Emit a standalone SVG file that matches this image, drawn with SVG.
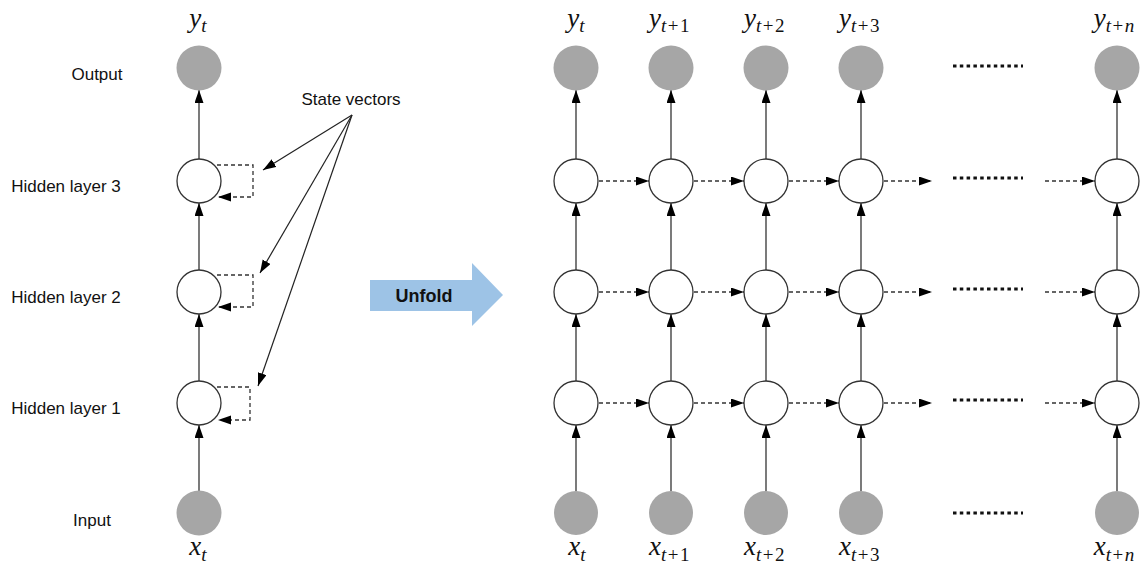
<svg xmlns="http://www.w3.org/2000/svg" width="1142" height="567" viewBox="0 0 1142 567">
<style>
.lbl{font-family:"Liberation Sans",Arial,sans-serif;font-size:17px;fill:#111}
.math{font-family:"Liberation Serif","DejaVu Serif",serif;font-style:italic;font-size:27px;fill:#111}
.sub{font-size:19px}
.up{font-style:normal;letter-spacing:1.5px}
.gray{fill:#a6a6a6}
.hid{fill:#fff;stroke:#333;stroke-width:1.3}
.v{stroke:#333;stroke-width:1.3;fill:none;marker-end:url(#ah)}
.d{stroke:#333;stroke-width:1.3;fill:none;stroke-dasharray:4,3;marker-end:url(#ah)}
.s{stroke:#222;stroke-width:1.2;fill:none;marker-end:url(#ah)}
.dots{stroke:#111;stroke-width:3;stroke-dasharray:3.5,3.3;fill:none}
</style>
<defs>
<marker id="ah" markerUnits="userSpaceOnUse" markerWidth="14" markerHeight="10" refX="13" refY="4.5" orient="auto">
<path d="M0,0 L13,4.5 L0,9 z" fill="#000"/>
</marker>
</defs>
<rect width="1142" height="567" fill="#fff"/>

<g id="labels-left">
<text class="lbl" x="97" y="80" text-anchor="middle">Output</text>
<text class="lbl" x="66" y="192" text-anchor="middle">Hidden layer 3</text>
<text class="lbl" x="66" y="303" text-anchor="middle">Hidden layer 2</text>
<text class="lbl" x="66" y="414" text-anchor="middle">Hidden layer 1</text>
<text class="lbl" x="92" y="526" text-anchor="middle">Input</text>
<text class="lbl" x="351" y="105" text-anchor="middle" font-size="16.5">State vectors</text>
</g>

<g id="math-labels">
<text class="math" x="198" y="27" text-anchor="middle">y<tspan class="sub" dy="5">t</tspan></text>
<text class="math" x="198" y="555" text-anchor="middle">x<tspan class="sub" dy="6">t</tspan></text>
<text class="math" x="576" y="27" text-anchor="middle">y<tspan class="sub" dy="5">t</tspan></text>
<text class="math" x="670" y="27" text-anchor="middle">y<tspan class="sub" dy="5">t<tspan class="up" dx="1.5">+1</tspan></tspan></text>
<text class="math" x="765" y="27" text-anchor="middle">y<tspan class="sub" dy="5">t<tspan class="up" dx="1.5">+2</tspan></tspan></text>
<text class="math" x="860" y="27" text-anchor="middle">y<tspan class="sub" dy="5">t<tspan class="up" dx="1.5">+3</tspan></tspan></text>
<text class="math" x="1114" y="27" text-anchor="middle">y<tspan class="sub" dy="5">t<tspan class="up" dx="1.5">+</tspan>n</tspan></text>
<text class="math" x="577" y="555" text-anchor="middle">x<tspan class="sub" dy="6">t</tspan></text>
<text class="math" x="670" y="555" text-anchor="middle">x<tspan class="sub" dy="6">t<tspan class="up" dx="1.5">+1</tspan></tspan></text>
<text class="math" x="765" y="555" text-anchor="middle">x<tspan class="sub" dy="6">t<tspan class="up" dx="1.5">+2</tspan></tspan></text>
<text class="math" x="860" y="555" text-anchor="middle">x<tspan class="sub" dy="6">t<tspan class="up" dx="1.5">+3</tspan></tspan></text>
<text class="math" x="1114" y="555" text-anchor="middle">x<tspan class="sub" dy="6">t<tspan class="up" dx="1.5">+</tspan>n</tspan></text>
</g>

<g id="connectors">
<line class="v" x1="199" y1="491" x2="199" y2="425"/>
<line class="v" x1="199" y1="381" x2="199" y2="314"/>
<line class="v" x1="199" y1="270" x2="199" y2="203"/>
<line class="v" x1="199" y1="159" x2="199" y2="90"/>
<polyline class="d" points="217,165 253,165 253,197 218,197"/>
<polyline class="d" points="217,275 253,275 253,307 218,307"/>
<polyline class="d" points="217,387 250,387 250,420 218,420"/>
<line class="s" x1="352" y1="115" x2="263" y2="170"/>
<line class="s" x1="352" y1="115" x2="260" y2="273"/>
<line class="s" x1="352" y1="115" x2="258" y2="386"/>

<g>
<line class="v" x1="576" y1="491" x2="576" y2="425"/>
<line class="v" x1="576" y1="381" x2="576" y2="314"/>
<line class="v" x1="576" y1="270" x2="576" y2="203"/>
<line class="v" x1="576" y1="159" x2="576" y2="90"/>
<line class="v" x1="671" y1="491" x2="671" y2="425"/>
<line class="v" x1="671" y1="381" x2="671" y2="314"/>
<line class="v" x1="671" y1="270" x2="671" y2="203"/>
<line class="v" x1="671" y1="159" x2="671" y2="90"/>
<line class="v" x1="766" y1="491" x2="766" y2="425"/>
<line class="v" x1="766" y1="381" x2="766" y2="314"/>
<line class="v" x1="766" y1="270" x2="766" y2="203"/>
<line class="v" x1="766" y1="159" x2="766" y2="90"/>
<line class="v" x1="861" y1="491" x2="861" y2="425"/>
<line class="v" x1="861" y1="381" x2="861" y2="314"/>
<line class="v" x1="861" y1="270" x2="861" y2="203"/>
<line class="v" x1="861" y1="159" x2="861" y2="90"/>
<line class="v" x1="1117" y1="491" x2="1117" y2="425"/>
<line class="v" x1="1117" y1="381" x2="1117" y2="314"/>
<line class="v" x1="1117" y1="270" x2="1117" y2="203"/>
<line class="v" x1="1117" y1="159" x2="1117" y2="90"/>
</g>
<g>
<line class="d" x1="599" y1="181" x2="649" y2="181"/>
<line class="d" x1="694" y1="181" x2="744" y2="181"/>
<line class="d" x1="789" y1="181" x2="839" y2="181"/>
<line class="d" x1="884" y1="181" x2="932" y2="181"/>
<line class="d" x1="1045" y1="181" x2="1095" y2="181"/>
<line class="d" x1="599" y1="292" x2="649" y2="292"/>
<line class="d" x1="694" y1="292" x2="744" y2="292"/>
<line class="d" x1="789" y1="292" x2="839" y2="292"/>
<line class="d" x1="884" y1="292" x2="932" y2="292"/>
<line class="d" x1="1045" y1="292" x2="1095" y2="292"/>
<line class="d" x1="599" y1="403" x2="649" y2="403"/>
<line class="d" x1="694" y1="403" x2="744" y2="403"/>
<line class="d" x1="789" y1="403" x2="839" y2="403"/>
<line class="d" x1="884" y1="403" x2="932" y2="403"/>
<line class="d" x1="1045" y1="403" x2="1095" y2="403"/>
</g>
</g>

<g id="ellipsis">
<line class="dots" x1="953" y1="66" x2="1023" y2="66"/>
<line class="dots" x1="953" y1="178" x2="1023" y2="178"/>
<line class="dots" x1="953" y1="289" x2="1023" y2="289"/>
<line class="dots" x1="953" y1="400" x2="1023" y2="400"/>
<line class="dots" x1="953" y1="513" x2="1023" y2="513"/>
</g>

<g id="left-output"><circle class="gray" cx="199" cy="68" r="22.5"/></g>
<g id="left-h3"><circle class="hid" cx="199" cy="181" r="22"/></g>
<g id="left-h2"><circle class="hid" cx="199" cy="292" r="22"/></g>
<g id="left-h1"><circle class="hid" cx="199" cy="403" r="22"/></g>
<g id="left-input"><circle class="gray" cx="199" cy="513" r="22.5"/></g>

<g id="unfold">
<path d="M370,280 L472,280 L472,263 L503,295 L472,326 L472,311 L370,311 z" fill="#9dc3e6"/>
<text x="424" y="302" text-anchor="middle" font-family="Liberation Sans,Arial,sans-serif" font-weight="bold" font-size="18" fill="#111">Unfold</text>
</g>

<g id="out-0"><circle class="gray" cx="576" cy="68" r="22.5"/></g>
<g id="out-1"><circle class="gray" cx="671" cy="68" r="22.5"/></g>
<g id="out-2"><circle class="gray" cx="766" cy="68" r="22.5"/></g>
<g id="out-3"><circle class="gray" cx="861" cy="68" r="22.5"/></g>
<g id="out-n"><circle class="gray" cx="1117" cy="68" r="22.5"/></g>

<g id="h3-0"><circle class="hid" cx="576" cy="181" r="22"/></g>
<g id="h3-1"><circle class="hid" cx="671" cy="181" r="22"/></g>
<g id="h3-2"><circle class="hid" cx="766" cy="181" r="22"/></g>
<g id="h3-3"><circle class="hid" cx="861" cy="181" r="22"/></g>
<g id="h3-n"><circle class="hid" cx="1117" cy="181" r="22"/></g>

<g id="h2-0"><circle class="hid" cx="576" cy="292" r="22"/></g>
<g id="h2-1"><circle class="hid" cx="671" cy="292" r="22"/></g>
<g id="h2-2"><circle class="hid" cx="766" cy="292" r="22"/></g>
<g id="h2-3"><circle class="hid" cx="861" cy="292" r="22"/></g>
<g id="h2-n"><circle class="hid" cx="1117" cy="292" r="22"/></g>

<g id="h1-0"><circle class="hid" cx="576" cy="403" r="22"/></g>
<g id="h1-1"><circle class="hid" cx="671" cy="403" r="22"/></g>
<g id="h1-2"><circle class="hid" cx="766" cy="403" r="22"/></g>
<g id="h1-3"><circle class="hid" cx="861" cy="403" r="22"/></g>
<g id="h1-n"><circle class="hid" cx="1117" cy="403" r="22"/></g>

<g id="in-0"><circle class="gray" cx="576" cy="513" r="22"/></g>
<g id="in-1"><circle class="gray" cx="671" cy="513" r="22"/></g>
<g id="in-2"><circle class="gray" cx="766" cy="513" r="22"/></g>
<g id="in-3"><circle class="gray" cx="861" cy="513" r="22"/></g>
<g id="in-n"><circle class="gray" cx="1117" cy="513" r="22"/></g>
</svg>
